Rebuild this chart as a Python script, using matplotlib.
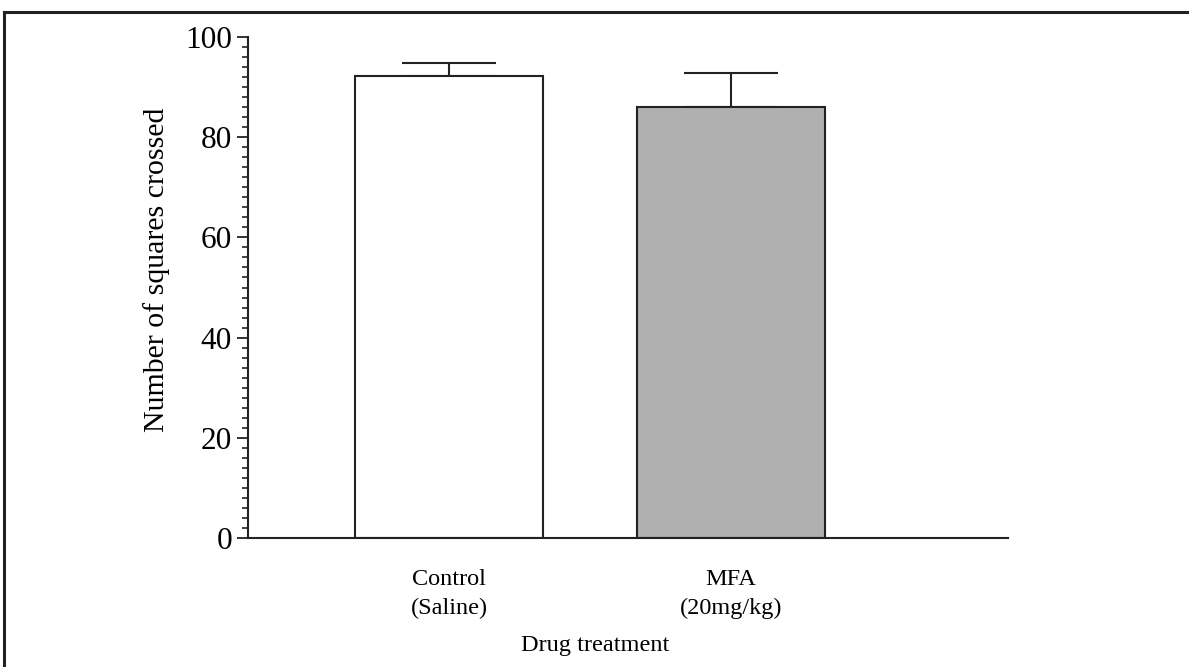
import matplotlib
matplotlib.use('Agg')
import matplotlib.pyplot as plt
from matplotlib.ticker import MultipleLocator
from matplotlib.lines import Line2D

groups = ['Control\n(Saline)', 'MFA\n(20mg/kg)']
means = [92.2, 86.0]
sems = [2.6, 6.8]
colours = ['white', '#b0b0b0']

plt.rcParams['font.family'] = ['Liberation Serif', 'DejaVu Serif']

fig = plt.figure(figsize=(11.89, 6.67), dpi=100)
ax = fig.add_axes([0.2086, 0.1934, 0.6392, 0.7511])

pos = list(range(len(groups)))
ax.bar(pos, means, width=0.667, color=colours, edgecolor='#222222', linewidth=1.5, zorder=2)
ax.errorbar(pos, means, yerr=[[0] * len(sems), sems], fmt='none', ecolor='#222222',
            elinewidth=1.5, capsize=34, capthick=1.5, zorder=1)

ax.set_xlim(-0.713, 1.982)
ax.set_ylim(0, 100)
ax.yaxis.set_major_locator(MultipleLocator(20))
ax.yaxis.set_minor_locator(MultipleLocator(2))
ax.tick_params(axis='y', which='major', length=8, width=1.3, labelsize=22.5, pad=3.5, color='#222222')
ax.tick_params(axis='y', which='minor', length=4.5, width=1.2, color='#222222')
ax.set_xticks(pos)
ax.set_xticklabels(groups, fontsize=17.5, linespacing=1.5)
ax.tick_params(axis='x', length=0, pad=22)

for side in ['top', 'right']:
    ax.spines[side].set_visible(False)
for side in ['left', 'bottom']:
    ax.spines[side].set_linewidth(1.5)
    ax.spines[side].set_color('#222222')

fig.text(157 / 1189, 1 - 270 / 667, 'Number of squares crossed', fontsize=21.5,
         rotation=90, ha='center', va='center')
fig.text(595 / 1189, 1 - 645 / 667, 'Drug treatment', fontsize=17.5,
         ha='center', va='center')

# frame around the figure (top and left edges visible)
fig.add_artist(Line2D([0.0035, 1.0], [0.982, 0.982], color='#222222', lw=2.2))
fig.add_artist(Line2D([0.0035, 0.0035], [0.0, 0.982], color='#222222', lw=2.2))

fig.savefig('out.png', dpi=100)
